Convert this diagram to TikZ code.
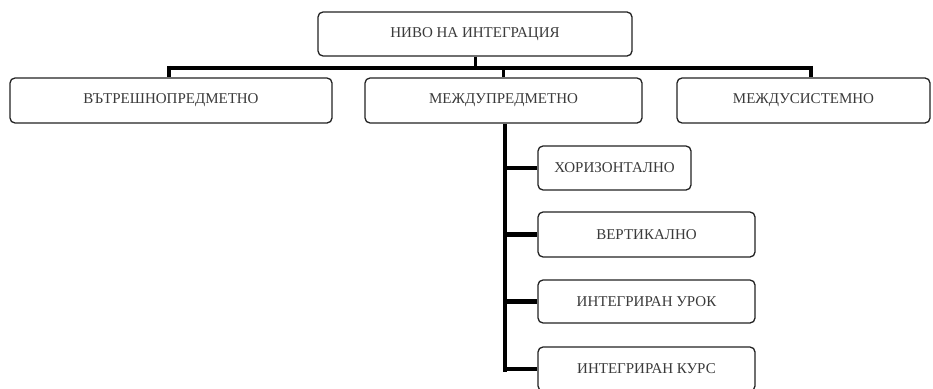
\documentclass[tikz,border=0pt]{standalone}
\usepackage{fontspec}
\setmainfont{Liberation Serif}
\usepackage{xcolor}
\definecolor{inkgray}{HTML}{3A3A3A}
\definecolor{edgegray}{HTML}{222222}
\usetikzlibrary{calc}

\begin{document}
\begin{tikzpicture}[x=1pt,y=-1pt,
    box/.style={draw=edgegray, line width=1.3pt, rounded corners=5pt, fill=white,
                text=inkgray, font=\fontsize{15}{17}\selectfont, inner sep=0pt},
    link/.style={draw=black, line width=4.5pt},
    stub/.style={draw=black, line width=3pt}]
    \useasboundingbox (0,0) rectangle (933,388);

    % Top level
    \node[box, minimum width=314pt, minimum height=44pt] (level) at (475,34) {НИВО НА ИНТЕГРАЦИЯ};

    % Second row
    \node[box, minimum width=322pt, minimum height=45pt] (intra) at (171,100.5) {ВЪТРЕШНОПРЕДМЕТНО};
    \node[box, minimum width=277pt, minimum height=45pt] (inter) at (503.5,100.5) {МЕЖДУПРЕДМЕТНО};
    \node[box, minimum width=253pt, minimum height=45pt] (system) at (803.5,100.5) {МЕЖДУСИСТЕМНО};

    % Forms of the interdisciplinary level
    \node[box, minimum width=153pt, minimum height=44pt] (horiz) at (614.5,168) {ХОРИЗОНТАЛНО};
    \node[box, minimum width=217pt, minimum height=45pt] (vert) at (646.5,234.5) {ВЕРТИКАЛНО};
    \node[box, minimum width=217pt, minimum height=43pt] (lesson) at (646.5,301.5) {ИНТЕГРИРАН УРОК};
    \node[box, minimum width=217pt, minimum height=44pt] (course) at (646.5,369) {ИНТЕГРИРАН КУРС};

    % Bus under the top box
    \coordinate (busL) at (169,68);
    \coordinate (busR) at (811,68);
    \draw[stub] (level.south) -- (level.south |- busL);
    \draw[link] (busL) -- (busR);
    \draw[link] ($(busL)+(0,-2.25)$) -- (intra.north -| busL);
    \draw[stub] (inter.north |- busL) -- (inter.north);
    \draw[link] ($(busR)+(0,-2.25)$) -- (system.north -| busR);

    % Trunk and branches
    \coordinate (trunk) at (505,370);
    \draw[link] (inter.south -| trunk) -- ($(trunk)+(0,2.25)$);
    \draw[link] (horiz.west -| trunk) -- (horiz.west);
    \draw[link] (vert.west -| trunk) -- (vert.west);
    \draw[link] (lesson.west -| trunk) -- (lesson.west);
    \draw[link] (course.west -| trunk) -- (course.west);

\end{tikzpicture}
\end{document}
